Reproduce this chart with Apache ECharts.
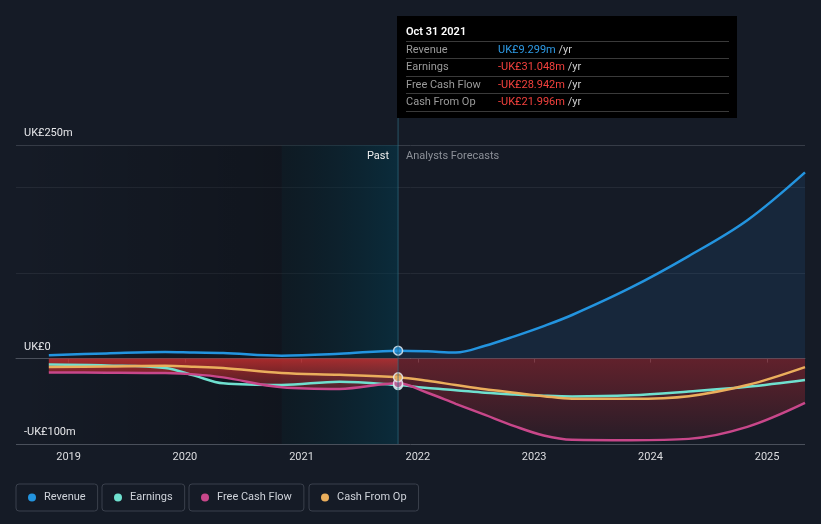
<!DOCTYPE html>
<html><head><meta charset="utf-8">
<script src="https://cdn.jsdelivr.net/npm/echarts@6/dist/echarts.min.js"></script>
<style>html,body{margin:0;padding:0;background:#151b26;}#c{width:821px;height:524px;}</style>
</head><body><div id="c"></div>
<script>
// ---- data (UK£ m) ----
const dates = ['2018-10-31','2019-04-30','2019-10-31','2020-01-31','2020-04-30','2020-10-31','2021-04-30','2021-10-31',
  '2022-01-31','2022-04-30','2022-07-31','2022-10-31','2023-01-31','2023-04-30','2023-10-31','2024-04-30','2024-10-31','2025-04-30'];
const revenue  = [4.0, 6.0, 7.8, 7.0, 6.5, 3.3, 5.5, 9.299, 8.5, 7.0, 15, 26, 38, 51, 83, 120, 162, 218];
const earnings = [-7, -8, -11, -20, -29, -31, -27, -31.048, -34.5, -37, -40, -42, -43.5, -44.3, -43, -38.5, -33, -25];
const fcf      = [-16.4, -16.5, -17, -18.5, -22, -33.5, -35.5, -28.942, -40, -53, -66, -79, -90, -95, -95.5, -94, -80, -52];
const cfo      = [-10, -9.3, -8.5, -9.5, -11, -17, -19, -21.996, -26, -31, -36, -40, -44, -47, -47, -44, -31, -10];
const seriesNames = ['Revenue', 'Earnings', 'Free Cash Flow', 'Cash From Op'];
const yTickLabels = {'250': 'UK£250m', '0': 'UK£0', '-100': '-UK£100m'};
const PAST_END = '2021-10-31';
const HIGHLIGHT_START = '2020-10-31';
const X_MIN = '2018-07-20', X_MAX = '2025-04-30';
const tooltipTitle = 'Oct 31 2021';

const colors = {rev:'#2394df', earn:'#6fe0cf', fcf:'#c8478a', cfo:'#eaae5c'};
const FONT = 'Roboto, sans-serif';
const DAY = 86400000;
const pd = s => echarts.number.parseDate(s).getTime();
const pairs = (vals, from, to) => dates.slice(from, to).map((d, i) => [d, vals.slice(from, to)[i]]);
const pastIdx = dates.indexOf(PAST_END);
const N = dates.length;

const chart = echarts.init(document.getElementById('c'), null, {renderer: 'canvas'});

const lineBase = {type: 'line', smooth: 0.35, showSymbol: false, silent: true, z: 5};

const option = {
  backgroundColor: '#151b26',
  animation: false,
  textStyle: {fontFamily: FONT},
  grid: {left: 16, right: 16, top: 145, bottom: 80},
  legend: seriesNames.map((n, i) => ({
    data: [n], left: [16, 102, 189, 309][i], top: 484,
    icon: 'circle', itemWidth: 8, itemHeight: 8,
    padding: [8, 12, 8, 12], borderColor: '#3a404c', borderWidth: 1, borderRadius: 3,
    textStyle: {color: '#cfd3da', fontSize: 11, fontFamily: FONT, lineHeight: 11, padding: [0, 0, 0, 3]}
  })),
  xAxis: {
    type: 'time', min: X_MIN, max: X_MAX,
    minInterval: 365 * DAY, maxInterval: 366 * DAY,
    axisLine: {lineStyle: {color: '#4a505b', width: 1}},
    axisTick: {show: true, length: 4, lineStyle: {color: '#4a505b'}},
    axisLabel: {color: '#dcdde0', fontSize: 11, margin: 8, fontFamily: FONT,
      formatter: v => String(new Date(v).getFullYear())},
    splitLine: {show: false}
  },
  yAxis: {
    type: 'value', min: -100, max: 250, interval: 100,
    axisLine: {show: false}, axisTick: {show: false},
    splitLine: {lineStyle: {color: ['#4a505b', '#bdbcc0', '#242a35', '#242a35', '#363c47'], width: 1}},
    axisLabel: {inside: true, margin: 8, color: '#e6e7ea', fontSize: 11, fontFamily: FONT,
      verticalAlign: 'bottom', lineHeight: 13, padding: [0, 0, 5, 0],
      formatter: v => yTickLabels[String(v)] || ''}
  },
  series: [
    {type: 'line', name: '_bg', data: pairs(revenue, 0, N), silent: true, showSymbol: false,
      lineStyle: {opacity: 0}, z: 0,
      markArea: {silent: true, z: 0, itemStyle: {color: {type: 'linear', x: 0, y: 0, x2: 1, y2: 0,
        colorStops: [{offset: 0, color: 'rgba(0,0,0,0)'}, {offset: 1, color: 'rgba(0,0,0,0.22)'}]}},
        data: [[{xAxis: X_MIN}, {xAxis: HIGHLIGHT_START}]]}},
    {type: 'line', name: '_hl', data: pairs(revenue, 0, N), silent: true, showSymbol: false,
      lineStyle: {opacity: 0}, z: 0,
      markArea: {silent: true, z: 0, itemStyle: {color: {type: 'linear', x: 0, y: 0, x2: 1, y2: 0,
        colorStops: [{offset: 0, color: 'rgba(0,25,30,0.3)'}, {offset: 1, color: 'rgba(0,60,80,0.5)'}]}},
        data: [[{xAxis: HIGHLIGHT_START}, {xAxis: PAST_END}]]}},
    Object.assign({}, lineBase, {name: '_revArea', data: pairs(revenue, pastIdx, N), z: 3,
      lineStyle: {width: 0}, areaStyle: {opacity: 1, color: 'rgba(35,120,200,0.13)'}}),
    Object.assign({}, lineBase, {name: '_fcfPast', data: pairs(fcf, 0, pastIdx + 1), z: 3,
      lineStyle: {width: 0}, areaStyle: {opacity: 1, color: {type: 'linear', x: 0, y: 0, x2: 0, y2: 1,
        colorStops: [{offset: 0, color: 'rgba(205,48,48,0.8)'}, {offset: 0.5, color: 'rgba(190,45,45,0.58)'}, {offset: 1, color: 'rgba(180,45,50,0.38)'}]}}}),
    Object.assign({}, lineBase, {name: '_fcfFc', data: pairs(fcf, pastIdx, N), z: 3,
      lineStyle: {width: 0}, areaStyle: {opacity: 1, color: {type: 'linear', x: 0, y: 0, x2: 0, y2: 1,
        colorStops: [{offset: 0, color: 'rgba(180,40,50,0.48)'}, {offset: 1, color: 'rgba(180,40,50,0.12)'}]}}}),
    Object.assign({}, lineBase, {name: 'Revenue', data: pairs(revenue, 0, N), color: colors.rev, lineStyle: {width: 2.5, color: colors.rev}}),
    Object.assign({}, lineBase, {name: 'Earnings', data: pairs(earnings, 0, N), color: colors.earn, lineStyle: {width: 2.5, color: colors.earn}}),
    Object.assign({}, lineBase, {name: 'Free Cash Flow', data: pairs(fcf, 0, N), color: colors.fcf, lineStyle: {width: 2.5, color: colors.fcf}}),
    Object.assign({}, lineBase, {name: 'Cash From Op', data: pairs(cfo, 0, N), color: colors.cfo, lineStyle: {width: 2.5, color: colors.cfo}}),
    {type: 'scatter', name: '_dots', silent: true, z: 7, symbolSize: 9,
      data: [
        {value: [PAST_END, earnings[pastIdx]], itemStyle: {color: colors.earn}},
        {value: [PAST_END, fcf[pastIdx]], itemStyle: {color: colors.fcf}},
        {value: [PAST_END, cfo[pastIdx]], itemStyle: {color: colors.cfo}},
        {value: [PAST_END, revenue[pastIdx]], itemStyle: {color: colors.rev}}
      ],
      itemStyle: {borderColor: '#e6edf5', borderWidth: 1.5}}
  ]
};
chart.setOption(option);

const px = chart.convertToPixel({xAxisIndex: 0}, pd(PAST_END));
const yBottom = chart.convertToPixel({yAxisIndex: 0}, -100);
const yTop = chart.convertToPixel({yAxisIndex: 0}, 250);
const bx = Math.round(px) - 1, by = 16, bw = 340, bh = 102;
const fmt = v => (v < 0 ? '-' : '') + 'UK£' + Math.abs(v).toFixed(3) + 'm';
const rows = [[seriesNames[0], revenue[pastIdx]], [seriesNames[1], earnings[pastIdx]], [seriesNames[2], fcf[pastIdx]], [seriesNames[3], cfo[pastIdx]]];
const sepYs = [41, 58, 76, 93, 111];
const g = [];
g.push({type: 'line', shape: {x1: px, y1: by + bh, x2: px, y2: yBottom}, style: {stroke: 'rgba(45,110,130,0.7)', lineWidth: 1}, z: 50, silent: true});
g.push({type: 'rect', shape: {x: bx, y: by, width: bw, height: bh}, style: {fill: '#000000'}, z: 60, silent: true});
g.push({type: 'text', x: bx + 9, y: 32, style: {text: tooltipTitle, fill: '#ffffff', font: '600 11px ' + FONT, verticalAlign: 'middle'}, z: 61, silent: true});
sepYs.forEach(y => g.push({type: 'line', shape: {x1: bx + 9, y1: y + 0.5, x2: bx + 332, y2: y + 0.5}, style: {stroke: '#3a3a3a', lineWidth: 1}, z: 61, silent: true}));
rows.forEach((r, i) => {
  const cy = sepYs[i] + 9.5;
  g.push({type: 'text', x: bx + 9, y: cy, style: {text: r[0], fill: '#9b9b9b', font: '11px ' + FONT, verticalAlign: 'middle'}, z: 61, silent: true});
  g.push({type: 'text', x: bx + 101, y: cy, style: {
    text: '{v|' + fmt(r[1]) + '}{u| /yr}', verticalAlign: 'middle',
    rich: {v: {fill: r[1] < 0 ? '#f2413d' : '#2e9be6', font: '11px ' + FONT}, u: {fill: '#cfcfcf', font: '11px ' + FONT}}
  }, z: 61, silent: true});
});
g.push({type: 'text', x: px - 9, y: yTop + 11, style: {text: 'Past', fill: '#eeeeee', font: '11px ' + FONT, align: 'right', verticalAlign: 'middle'}, z: 40, silent: true});
g.push({type: 'text', x: px + 8, y: yTop + 11, style: {text: 'Analysts Forecasts', fill: '#8c9098', font: '11px ' + FONT, align: 'left', verticalAlign: 'middle'}, z: 40, silent: true});
chart.setOption({graphic: g});
</script></body></html>
